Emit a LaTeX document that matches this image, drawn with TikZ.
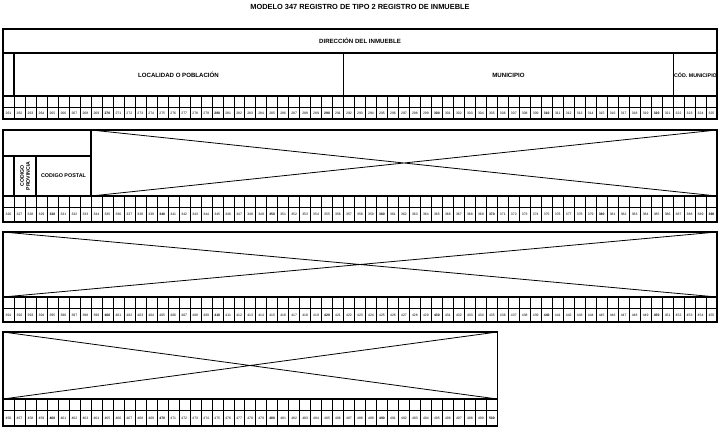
\documentclass[tikz,border=0pt]{standalone}
\usepackage{fontspec}
\setmainfont{Liberation Sans}
\tikzset{
  frame/.style={line width=1.1pt},
  thin/.style={line width=0.35pt},
  numtxt/.style={font=\fontsize{3.4}{3.8}\selectfont, inner sep=0pt},
  headtxt/.style={font=\bfseries\fontsize{6.1}{7}\selectfont, inner sep=0pt},
}
% column cells: first number, count, top of tick row, top of number row, bottom
\newcommand{\cellrow}[5]{%
  \foreach \k in {1,...,#2}{
    \pgfmathtruncatemacro{\num}{#1+\k-1}
    \pgfmathtruncatemacro{\rest}{mod(\num,10)}
    \draw[thin] ({3+(\k-1)*10.985},#3) rectangle ({3+\k*10.985},#4);
    \draw[thin] ({3+(\k-1)*10.985},#4) rectangle ({3+\k*10.985},#5);
    \ifnum\rest=0
      \node[numtxt, font=\bfseries\fontsize{3.4}{3.8}\selectfont] (n\num) at ({3+(\k-0.5)*10.985},{(#4+#5)/2}) {\num};
    \else
      \node[numtxt] (n\num) at ({3+(\k-0.5)*10.985},{(#4+#5)/2}) {\num};
    \fi
  }}
\begin{document}
\begin{tikzpicture}[x=1pt,y=-1pt]
\useasboundingbox (0,0) rectangle (720,428);
% Title
\node[headtxt, font=\bfseries\fontsize{7.4}{8.5}\selectfont] (title) at (360,7) {MODELO 347 REGISTRO DE TIPO 2 REGISTRO DE INMUEBLE};

% Block 1
\cellrow{261}{65}{96}{107}{119}
\draw[frame] (3,29) rectangle (717,119);
\draw[frame] (3,53) -- (717,53);
\draw[frame] (3,96) -- (717,96);
\draw[frame] (14,53) -- (14,96);
\draw[frame] (343.5,53) -- (343.5,96);
\draw[frame] (673.5,53) -- (673.5,96);
\node[headtxt] (dir) at (360,41) {DIRECCIÓN DEL INMUEBLE};
\node[headtxt] (loc) at (178.5,75) {LOCALIDAD O POBLACIÓN};
\node[headtxt] (mun) at (508.5,75) {MUNICIPIO};
\node[headtxt, font=\bfseries\fontsize{5.3}{6}\selectfont] (cod) at (695.5,75) {CÓD. MUNICIPIO};

% Block 2
\cellrow{326}{65}{196}{207}{222}
\draw[frame] (3,130) rectangle (717,222);
\draw[frame] (3,156) -- (91,156);
\draw[frame] (3,196) -- (717,196);
\draw[frame] (14,156) -- (14,196);
\draw[frame] (36,156) -- (36,196);
\draw[frame] (91,130) -- (91,196);
\coordinate (xa) at (91,130);
\coordinate (xb) at (717,196);
\coordinate (xc) at (91,196);
\coordinate (xd) at (717,130);
\draw[thick] (xa) -- (xb) (xc) -- (xd);
\node[headtxt, font=\bfseries\fontsize{5.2}{6}\selectfont, rotate=90, align=center] (prov) at (25,176) {CODIGO\\PROVINCIA};
\node[headtxt, font=\bfseries\fontsize{5.4}{6}\selectfont] (post) at (63.5,176) {CODIGO POSTAL};

% Block 3
\cellrow{391}{65}{297}{308}{322}
\draw[frame] (3,232) rectangle (717,322);
\draw[frame] (3,297) -- (717,297);
\coordinate (ya) at (3,232);
\coordinate (yb) at (717,297);
\coordinate (yc) at (3,297);
\coordinate (yd) at (717,232);
\draw[thick] (ya) -- (yb) (yc) -- (yd);

% Block 4
\cellrow{456}{45}{399}{410}{426}
\draw[frame] (3,332) rectangle (497.3,426);
\draw[frame] (3,399) -- (497.3,399);
\coordinate (za) at (3,332);
\coordinate (zb) at (497.3,399);
\coordinate (zc) at (3,399);
\coordinate (zd) at (497.3,332);
\draw[thick] (za) -- (zb) (zc) -- (zd);
\end{tikzpicture}
\end{document}
